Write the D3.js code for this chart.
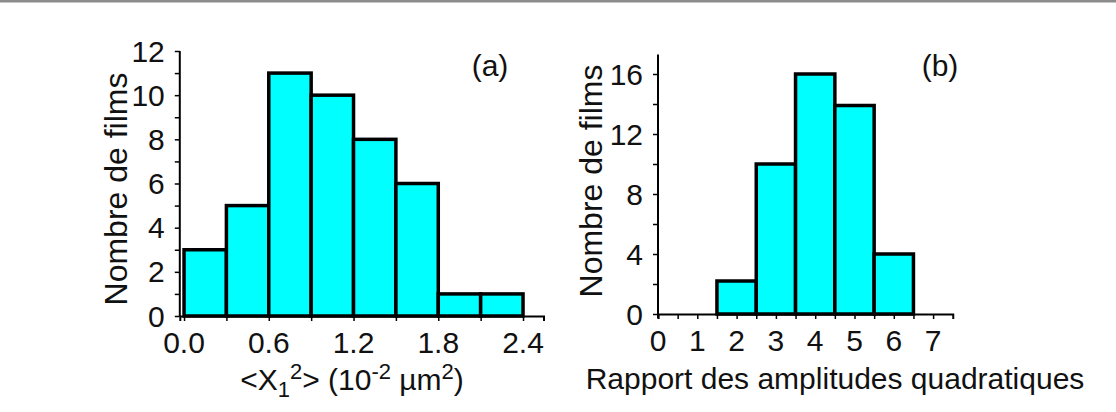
<!DOCTYPE html>
<html>
<head>
<meta charset="utf-8">
<script src="https://cdn.jsdelivr.net/npm/d3@7"></script>
<style>
  body { margin: 0; background: #fff; }
  text { font-family: "Liberation Sans", Arial, sans-serif; fill: #111; }
</style>
</head>
<body>
<div id="chart"></div>
<script>
// panel (a) histogram : bins of 0.3 (10^-2 um^2)
var binsA = [0.0, 0.3, 0.6, 0.9, 1.2, 1.5, 1.8, 2.1, 2.4];
var countsA = [3, 5, 11, 10, 8, 6, 1, 1];
var xTicksA = [0.0, 0.6, 1.2, 1.8, 2.4];
var yTicksA = [0, 2, 4, 6, 8, 10, 12];

// panel (b) histogram : bins of 1
var binsB = [1.5, 2.5, 3.5, 4.5, 5.5, 6.5];
var countsB = [2.2, 10, 16, 13.9, 4];
var xTicksB = [0, 1, 2, 3, 4, 5, 6, 7];
var yTicksB = [0, 4, 8, 12, 16];

var svgWidth = 1116;
var svgHeight = 412;

var svg = d3.select("#chart")
  .append("svg")
  .attr("width", svgWidth)
  .attr("height", svgHeight);

// grey frame line at the top
svg.append("rect")
  .attr("x", 0).attr("y", 0)
  .attr("width", svgWidth).attr("height", 2.5)
  .attr("fill", "#8c8c8c");

function drawPanel(opt) {
  var x = d3.scaleLinear().domain(opt.xDomain).range(opt.xRange);
  var y = d3.scaleLinear().domain(opt.yDomain).range(opt.yRange);

  var g = svg.append("g");

  // bars
  var bars = opt.counts.map(function(c, i) {
    return { x0: opt.bins[i], x1: opt.bins[i + 1], n: c };
  });
  g.selectAll("rect.bar")
    .data(bars)
    .enter()
    .append("rect")
    .attr("class", "bar")
    .attr("x", d => x(d.x0))
    .attr("y", d => y(d.n))
    .attr("width", d => x(d.x1) - x(d.x0))
    .attr("height", d => y(0) - y(d.n))
    .attr("fill", "#00ffff")
    .attr("stroke", "#000")
    .attr("stroke-width", 3.5);

  // x axis
  var xAxis = d3.axisBottom(x)
    .tickValues(opt.xMinor)
    .tickSize(5)
    .tickFormat("");
  var gx = g.append("g")
    .attr("transform", `translate(0, ${y(0)})`)
    .call(xAxis);
  gx.select(".domain").attr("stroke-width", 2);
  gx.selectAll(".tick line").attr("stroke-width", 1.5);

  g.selectAll("text.xtick")
    .data(opt.xTicks)
    .enter()
    .append("text")
    .attr("class", "xtick")
    .attr("x", d => x(d))
    .attr("y", y(0) + 37)
    .attr("text-anchor", "middle")
    .style("font-size", "30px")
    .text(opt.xFormat);

  // y axis
  var yAxis = d3.axisLeft(y)
    .tickValues(opt.yMinor)
    .tickSize(5)
    .tickFormat("");
  var gy = g.append("g")
    .attr("transform", `translate(${x(opt.xDomain[0])}, 0)`)
    .call(yAxis);
  gy.select(".domain")
    .attr("d", `M0,${y(0) + opt.yBelow}V${opt.yRange[1]}`)
    .attr("stroke-width", 2);
  gy.selectAll(".tick line").attr("stroke-width", 1.5);

  g.selectAll("text.ytick")
    .data(opt.yTicks)
    .enter()
    .append("text")
    .attr("class", "ytick")
    .attr("x", x(opt.xDomain[0]) - 15)
    .attr("y", d => y(d) + 10.5)
    .attr("text-anchor", "end")
    .style("font-size", "30px")
    .text(d => d);

  // y label
  g.append("text")
    .attr("transform", `translate(${opt.yLabelX}, ${opt.yLabelY}) rotate(-90)`)
    .attr("text-anchor", "middle")
    .style("font-size", "32px")
    .text("Nombre de films");

  // panel tag
  g.append("text")
    .attr("x", opt.tagX)
    .attr("y", 76)
    .attr("text-anchor", "middle")
    .style("font-size", "30px")
    .text(opt.tag);

  return g;
}

var gA = drawPanel({
  bins: binsA, counts: countsA,
  xDomain: [-0.03, 2.545], xRange: [179.8, 543.5],
  yDomain: [0, 12], yRange: [316, 51],
  xMinor: d3.range(0, 2.41, 0.3), xTicks: xTicksA, xFormat: d => d.toFixed(1),
  yMinor: d3.range(0, 12.1, 1), yTicks: yTicksA, yBelow: 0,
  yLabelX: 127, yLabelY: 189, tag: "(a)", tagX: 490
});

var gB = drawPanel({
  bins: binsB, counts: countsB,
  xDomain: [0, 7.5], xRange: [658, 952.75],
  yDomain: [0, 17.3], yRange: [314, 54.5],
  xMinor: d3.range(0, 7.01, 0.5), xTicks: xTicksB, xFormat: d => d,
  yMinor: d3.range(0, 16.1, 2), yTicks: yTicksB, yBelow: 4,
  yLabelX: 602, yLabelY: 181, tag: "(b)", tagX: 940
});

// x axis titles
var labA = gA.append("text")
  .attr("x", 352)
  .attr("y", 390)
  .attr("text-anchor", "middle")
  .style("font-size", "30px");
labA.append("tspan").text("<X");
labA.append("tspan").attr("dy", 7).style("font-size", "22px").text("1");
labA.append("tspan").attr("dy", -18).style("font-size", "22px").text("2");
labA.append("tspan").attr("dy", 11).text("> (10");
labA.append("tspan").attr("dy", -11).style("font-size", "22px").text("-2");
labA.append("tspan").attr("dy", 11).text(" \u00b5m");
labA.append("tspan").attr("dy", -11).style("font-size", "22px").text("2");
labA.append("tspan").attr("dy", 11).text(")");

gB.append("text")
  .attr("x", 835)
  .attr("y", 389)
  .attr("text-anchor", "middle")
  .style("font-size", "30px")
  .text("Rapport des amplitudes quadratiques");
</script>
</body>
</html>
